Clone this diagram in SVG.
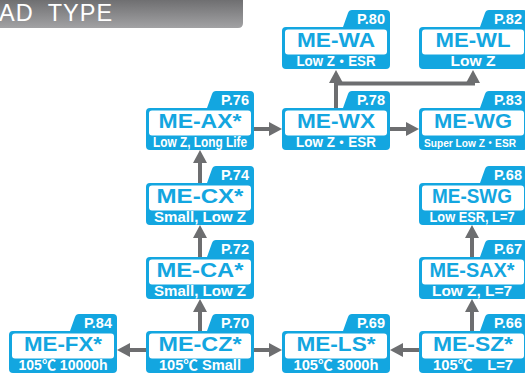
<svg xmlns="http://www.w3.org/2000/svg" xmlns:xlink="http://www.w3.org/1999/xlink" width="525" height="374" viewBox="0 0 525 374">
<style>
.box{fill:#13a6e0}
.inner{fill:#ffffff}
.name{font-family:"Liberation Sans","Noto Sans CJK JP",sans-serif;font-weight:bold;font-size:20px;fill:#13a6e0;text-anchor:middle}
.sub{font-family:"Liberation Sans","Noto Sans CJK JP",sans-serif;font-weight:bold;font-size:14px;fill:#ffffff;text-anchor:middle}
.small{font-size:11px}
.tab{font-family:"Liberation Sans","Noto Sans CJK JP",sans-serif;font-weight:bold;font-size:14.5px;fill:#ffffff;text-anchor:end}
.conn{stroke:#6d6e70;stroke-width:4;fill:none;marker-end:url(#ah)}
.title{font-family:"Liberation Sans",sans-serif;font-size:23.5px;fill:#ffffff;letter-spacing:1px;word-spacing:7px}
</style>
<defs>
<linearGradient id="tg" x1="0" y1="0" x2="0" y2="1">
<stop offset="0" stop-color="#6f6f71"/>
<stop offset="1" stop-color="#a2a2a4"/>
</linearGradient>
<marker id="ah" markerUnits="userSpaceOnUse" markerWidth="13" markerHeight="14" viewBox="0 0 13 14" refX="3" refY="7" orient="auto">
<path d="M0,0 L13,7 L0,14 Z" fill="#6d6e70"/>
</marker>
<path id="shape" d="M0 4 Q0 0 4 0 L61 0 L66 -14 Q67 -17 70 -17 L104 -17 Q108 -17 108 -13 L108 38 Q108 42 104 42 L4 42 Q0 42 0 38 Z"/>
<rect id="win" x="3" y="2.5" width="102" height="25" rx="3"/>
</defs>

<g id="title">
<path d="M0 0 H243 V23 Q243 28 238 28 H0 Z" fill="url(#tg)"/>
<text class="title" x="-1" y="21">AD TYPE</text>
</g>

<g id="connectors">
<path class="conn" d="M254 129 L272 129"/>
<path class="conn" d="M390 129 L409 129"/>
<path class="conn" d="M336 108 L336 80"/>
<path class="conn" d="M336 83.5 L473 83.5 L473 80"/>
<path class="conn" d="M200 183 L200 160"/>
<path class="conn" d="M200 257 L200 235"/>
<path class="conn" d="M200 331 L200 309"/>
<path class="conn" d="M146 350 L127 350"/>
<path class="conn" d="M254 350 L272 350"/>
<path class="conn" d="M419 350 L400 350"/>
<path class="conn" d="M472 331 L472 309"/>
<path class="conn" d="M472 257 L472 235"/>
</g>

<g id="me-wa" transform="translate(282,27)">
<use xlink:href="#shape" class="box"/><use xlink:href="#win" class="inner"/>
<text class="tab" x="103" y="-3">P.80</text>
<text class="name" x="54" y="20" textLength="78" lengthAdjust="spacingAndGlyphs">ME-WA</text>
<text class="sub" x="54" y="39" textLength="79" lengthAdjust="spacingAndGlyphs">Low Z・ESR</text>
</g>

<g id="me-wl" transform="translate(419,27)">
<use xlink:href="#shape" class="box"/><use xlink:href="#win" class="inner"/>
<text class="tab" x="103" y="-3">P.82</text>
<text class="name" x="54" y="20" textLength="75" lengthAdjust="spacingAndGlyphs">ME-WL</text>
<text class="sub" x="54" y="39" textLength="45" lengthAdjust="spacingAndGlyphs">Low Z</text>
</g>

<g id="me-ax" transform="translate(146,108)">
<use xlink:href="#shape" class="box"/><use xlink:href="#win" class="inner"/>
<text class="tab" x="103" y="-3">P.76</text>
<text class="name" x="54" y="20" textLength="83" lengthAdjust="spacingAndGlyphs">ME-AX*</text>
<text class="sub" x="54" y="39" textLength="94" lengthAdjust="spacingAndGlyphs">Low Z, Long Life</text>
</g>

<g id="me-wx" transform="translate(282,108)">
<use xlink:href="#shape" class="box"/><use xlink:href="#win" class="inner"/>
<text class="tab" x="103" y="-3">P.78</text>
<text class="name" x="54" y="20" textLength="78" lengthAdjust="spacingAndGlyphs">ME-WX</text>
<text class="sub" x="54" y="39" textLength="80" lengthAdjust="spacingAndGlyphs">Low Z・ESR</text>
</g>

<g id="me-wg" transform="translate(419,108)">
<use xlink:href="#shape" class="box"/><use xlink:href="#win" class="inner"/>
<text class="tab" x="103" y="-3">P.83</text>
<text class="name" x="54" y="20" textLength="78" lengthAdjust="spacingAndGlyphs">ME-WG</text>
<text class="sub small" x="51" y="39" textLength="92" lengthAdjust="spacingAndGlyphs">Super Low Z・ESR</text>
</g>

<g id="me-cx" transform="translate(146,183)">
<use xlink:href="#shape" class="box"/><use xlink:href="#win" class="inner"/>
<text class="tab" x="103" y="-3">P.74</text>
<text class="name" x="54" y="20" textLength="87" lengthAdjust="spacingAndGlyphs">ME-CX*</text>
<text class="sub" x="54" y="39" textLength="92" lengthAdjust="spacingAndGlyphs">Small, Low Z</text>
</g>

<g id="me-swg" transform="translate(419,183)">
<use xlink:href="#shape" class="box"/><use xlink:href="#win" class="inner"/>
<text class="tab" x="103" y="-3">P.68</text>
<text class="name" x="53" y="20" textLength="80" lengthAdjust="spacingAndGlyphs">ME-SWG</text>
<text class="sub" x="53" y="39" textLength="85" lengthAdjust="spacingAndGlyphs">Low ESR, L=7</text>
</g>

<g id="me-ca" transform="translate(146,257)">
<use xlink:href="#shape" class="box"/><use xlink:href="#win" class="inner"/>
<text class="tab" x="103" y="-3">P.72</text>
<text class="name" x="54" y="20" textLength="87" lengthAdjust="spacingAndGlyphs">ME-CA*</text>
<text class="sub" x="54" y="39" textLength="92" lengthAdjust="spacingAndGlyphs">Small, Low Z</text>
</g>

<g id="me-sax" transform="translate(419,257)">
<use xlink:href="#shape" class="box"/><use xlink:href="#win" class="inner"/>
<text class="tab" x="103" y="-3">P.67</text>
<text class="name" x="53" y="20" textLength="85" lengthAdjust="spacingAndGlyphs">ME-SAX*</text>
<text class="sub" x="53" y="39" textLength="80" lengthAdjust="spacingAndGlyphs">Low Z, L=7</text>
</g>

<g id="me-fx" transform="translate(9,331)">
<use xlink:href="#shape" class="box"/><use xlink:href="#win" class="inner"/>
<text class="tab" x="103" y="-3">P.84</text>
<text class="name" x="54" y="20" textLength="78" lengthAdjust="spacingAndGlyphs">ME-FX*</text>
<text class="sub" x="54" y="39" textLength="89" lengthAdjust="spacingAndGlyphs">105℃ 10000h</text>
</g>

<g id="me-cz" transform="translate(146,331)">
<use xlink:href="#shape" class="box"/><use xlink:href="#win" class="inner"/>
<text class="tab" x="103" y="-3">P.70</text>
<text class="name" x="54" y="20" textLength="83" lengthAdjust="spacingAndGlyphs">ME-CZ*</text>
<text class="sub" x="54" y="39" textLength="82" lengthAdjust="spacingAndGlyphs">105℃ Small</text>
</g>

<g id="me-ls" transform="translate(282,331)">
<use xlink:href="#shape" class="box"/><use xlink:href="#win" class="inner"/>
<text class="tab" x="103" y="-3">P.69</text>
<text class="name" x="54" y="20" textLength="79" lengthAdjust="spacingAndGlyphs">ME-LS*</text>
<text class="sub" x="54" y="39" textLength="85" lengthAdjust="spacingAndGlyphs">105℃ 3000h</text>
</g>

<g id="me-sz" transform="translate(419,331)">
<use xlink:href="#shape" class="box"/><use xlink:href="#win" class="inner"/>
<text class="tab" x="103" y="-3">P.66</text>
<text class="name" x="54" y="20" textLength="80" lengthAdjust="spacingAndGlyphs">ME-SZ*</text>
<text class="sub" x="54" y="39" textLength="80" lengthAdjust="spacingAndGlyphs">105℃　L=7</text>
</g>
</svg>
